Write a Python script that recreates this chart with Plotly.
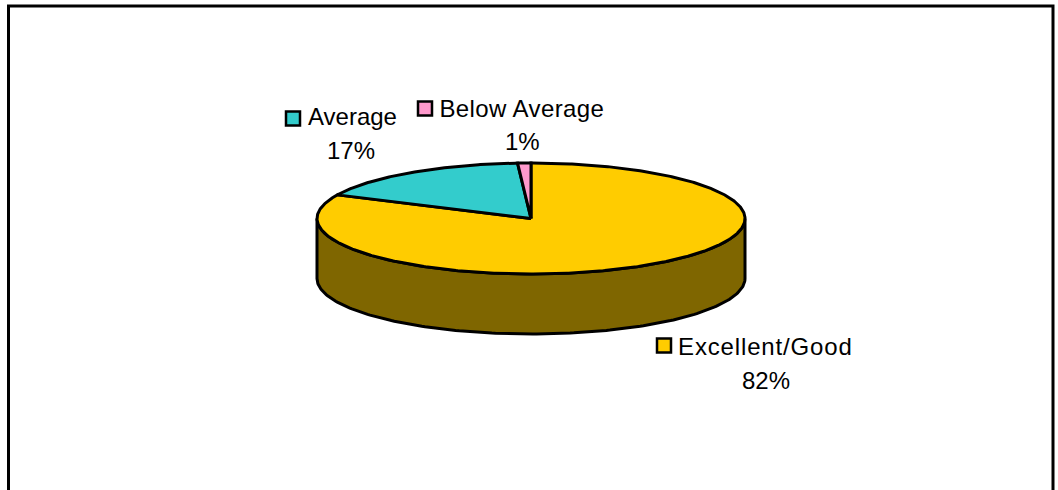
import numpy as np
import plotly.graph_objects as go

# Data
categories = ["Excellent/Good", "Average", "Below Average"]
percent = [82, 17, 1]
tick_labels = ["82%", "17%", "1%"]

# Style
top_colors = ["#FFCC00", "#33CCCC", "#FF99CC"]
wall_color = "#7F6600"
FONT = "Liberation Sans"
W, H = 1058, 490

# Pie geometry in screen pixels
CX, CY, RX, RY, DEPTH = 531, 218.5, 214, 55.5, 60
OUT = "#000000"


def rim(t0, t1, dy=0.0, n=180):
    t = np.radians(np.linspace(t0, t1, n))
    return CX + RX * np.sin(t), CY + dy - RY * np.cos(t)


fig = go.Figure()

# Front wall of the disc (only the part facing the viewer)
x_top, y_top = rim(90, 270)
x_bot, y_bot = rim(270, 90)
fig.add_trace(go.Scatter(
    x=np.r_[x_top, x_bot + 0, x_top[0]],
    y=np.r_[y_top, y_bot + DEPTH, y_top[0]],
    mode="lines", fill="toself", fillcolor=wall_color,
    line=dict(color=OUT, width=3), hoverinfo="skip", showlegend=False,
))

# Top-face wedges, clockwise from 12 o'clock, sized from the shares
start = 0.0
for name, share, colour in zip(categories, percent, top_colors):
    end = start + share * 360 / sum(percent)
    xs, ys = rim(start, end, n=max(8, int(end - start) * 2))
    fig.add_trace(go.Scatter(
        x=np.r_[CX, xs, CX], y=np.r_[CY, ys, CY],
        mode="lines", fill="toself", fillcolor=colour, name=name,
        line=dict(color=OUT, width=3), showlegend=False,
    ))
    start = end

# Label placement: name centre x, name y, key x, key y, percent centre x, percent y
label_pos = [
    (765.5, 346, 664, 345.5, 766, 380),
    (352, 116, 293, 118.5, 351, 150),
    (522, 108, 425, 108.5, 522, 141),
]
annotations, shapes = [], []
for name, pct, colour, (nx, ny, kx, ky, px, py) in zip(categories, tick_labels, top_colors, label_pos):
    annotations.append(dict(x=nx, y=ny, text=name, showarrow=False, xanchor="center", yanchor="middle",
                            font=dict(family=FONT, size=24, color="#000000")))
    annotations.append(dict(x=px, y=py, text=pct, showarrow=False, xanchor="center", yanchor="middle",
                            font=dict(family=FONT, size=24, color="#000000")))
    shapes.append(dict(type="rect", x0=kx - 7, x1=kx + 7, y0=ky - 7, y1=ky + 7,
                       fillcolor=colour, line=dict(color=OUT, width=2.5), layer="above"))

# Outer frame, cut off by the lower edge of the picture
shapes.append(dict(type="path", path="M 8.5 492 L 8.5 6 L 1053 6 L 1053 492",
                   line=dict(color=OUT, width=3), layer="above"))

fig.update_layout(
    width=W, height=H, margin=dict(l=0, r=0, t=0, b=0), autosize=False,
    paper_bgcolor="#FFFFFF", plot_bgcolor="#FFFFFF", showlegend=False,
    xaxis=dict(range=[0, W], visible=False, fixedrange=True),
    yaxis=dict(range=[H, 0], visible=False, fixedrange=True),
    annotations=annotations, shapes=shapes,
)

post = """
document.body.style.margin='0';document.body.style.overflow='hidden';
var sp={'Excellent/Good':'0.85px','Below Average':'0.4px'};
document.querySelectorAll('text.annotation-text').forEach(function(t){
  if(sp[t.textContent]){t.style.letterSpacing=sp[t.textContent];}
});
"""
fig.write_html("out.html", config={"displayModeBar": False}, post_script=post)
